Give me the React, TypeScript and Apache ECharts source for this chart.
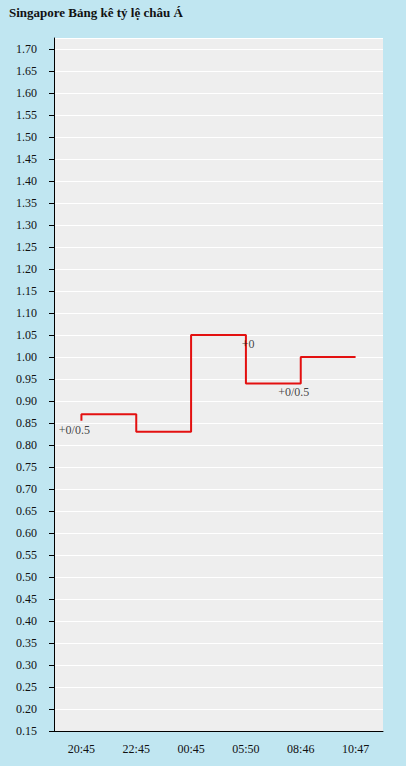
import React, { useEffect, useRef } from "react";
import * as echarts from "echarts";

const titleText = "Singapore Bảng kê tỷ lệ châu Á";
const categories = ["20:45", "22:45", "00:45", "05:50", "08:46", "10:47"];
// step points [category, odds]
const stepPoints: [string, number][] = [
  ["20:45", 0.855],
  ["20:45", 0.87],
  ["22:45", 0.83],
  ["00:45", 1.05],
  ["05:50", 0.94],
  ["08:46", 1.0],
  ["10:47", 1.0],
];
// handicap labels [category, odds, text]
const handicapLabels: [string, number, string][] = [
  ["20:45", 0.855, "+0/0.5"],
  ["05:50", 1.05, "+0"],
  ["08:46", 0.94, "+0/0.5"],
];
const yMin = 0.15;
const yMax = 1.725;
const yStep = 0.05;

const FONT = "'Liberation Serif', 'DejaVu Serif', serif";

export default function App() {
  const ref = useRef<HTMLDivElement>(null);
  useEffect(() => {
    document.body.style.margin = "0";
    const chart = echarts.init(ref.current!, null, { renderer: "svg" });
    chart.setOption({
      animation: false,
      backgroundColor: "#c0e6f1",
      textStyle: { fontFamily: FONT },
      title: {
        text: titleText,
        left: 9,
        top: 6,
        padding: 0,
        textStyle: { fontFamily: FONT, fontSize: 13, fontWeight: "bold", color: "#111" },
      },
      grid: {
        left: 54,
        right: 23,
        top: 38,
        bottom: 35,
        show: true,
        backgroundColor: "#eeeeee",
        borderWidth: 0,
      },
      xAxis: {
        type: "category",
        data: categories,
        boundaryGap: true,
        axisLine: { lineStyle: { color: "#000", width: 1 } },
        axisTick: { alignWithLabel: true, length: 5, lineStyle: { color: "#000" } },
        axisLabel: { color: "#111", fontSize: 12, fontFamily: FONT, margin: 12, interval: 0 },
        splitLine: { show: false },
      },
      yAxis: {
        type: "value",
        min: yMin,
        max: yMax,
        interval: yStep,
        axisLine: { show: true, lineStyle: { color: "#000", width: 1 } },
        axisTick: { show: true, length: 5, lineStyle: { color: "#000" } },
        axisLabel: {
          color: "#111",
          fontSize: 12,
          fontFamily: FONT,
          margin: 17,
          showMaxLabel: false,
          formatter: (v: number) => (v > 1.71 ? "" : v.toFixed(2)),
        },
        splitLine: { show: true, lineStyle: { color: "#ffffff", width: 1 } },
      },
      series: [
        {
          type: "line",
          step: "end",
          data: stepPoints,
          showSymbol: false,
          symbol: "none",
          lineStyle: { color: "#e31010", width: 2 },
          z: 3,
        },
        {
          type: "scatter",
          data: handicapLabels.map((d) => ({ value: [d[0], d[1]], name: d[2] })),
          symbolSize: 1,
          itemStyle: { color: "rgba(0,0,0,0)" },
          label: {
            show: true,
            position: "inside",
            align: "right",
            verticalAlign: "middle",
            offset: [8.5, 9],
            formatter: (p: any) => p.name,
            color: "#111",
            fontSize: 12,
            fontFamily: FONT,
          },
          z: 4,
        },
      ],
    });
    return () => chart.dispose();
  }, []);
  return <div ref={ref} style={{ width: 406, height: 766 }} />;
}
